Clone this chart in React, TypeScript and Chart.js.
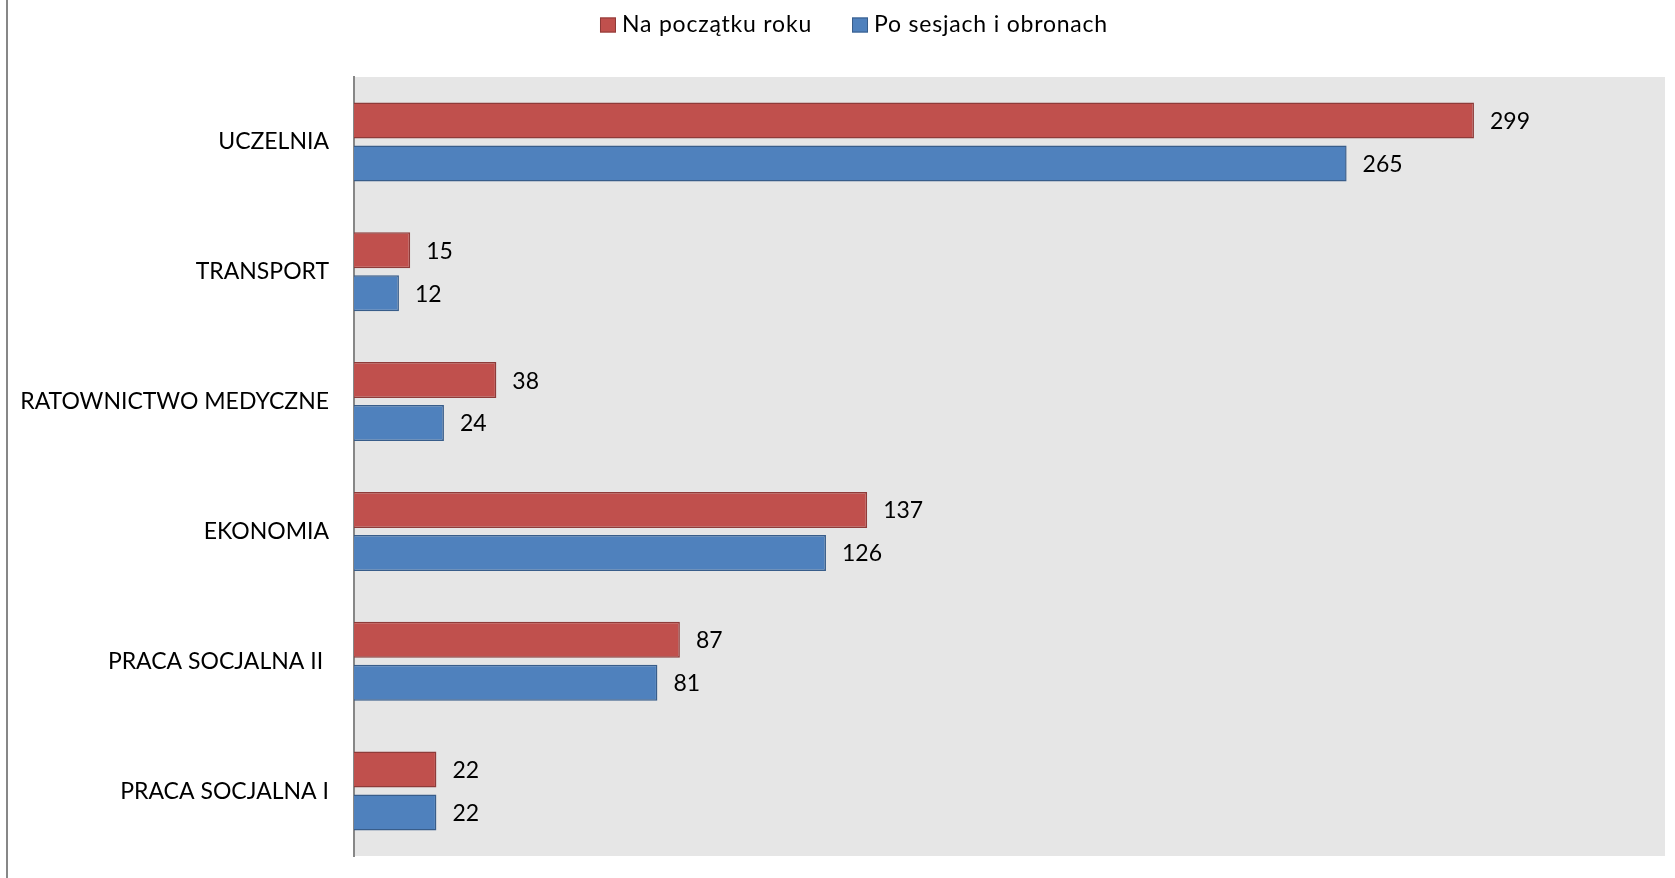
import React, { useEffect, useRef } from "react";
import { Chart, registerables } from "chart.js";

Chart.register(...registerables);

const categories = [
  "UCZELNIA",
  "TRANSPORT",
  "RATOWNICTWO MEDYCZNE",
  "EKONOMIA",
  "PRACA SOCJALNA II ",
  "PRACA SOCJALNA I",
];
const seriesNames = ["Na początku roku", "Po sesjach i obronach"];
const startValues = [299, 15, 38, 137, 87, 22];
const afterValues = [265, 12, 24, 126, 81, 22];
const xMin = 0;
const xMax = 350;

const FONT = "Lato, 'Open Sans', sans-serif";
const FS = 23;
const RED = "#C0504D";
const RED_BORDER = "#8E3B39";
const BLUE = "#4F81BD";
const BLUE_BORDER = "#385D8A";

const bgPlugin = {
  id: "bgPlugin",
  beforeDraw(chart: any) {
    const { ctx, chartArea, width, height } = chart;
    ctx.save();
    ctx.fillStyle = "#FFFFFF";
    ctx.fillRect(0, 0, width, height);
    ctx.fillStyle = "#E6E6E6";
    ctx.fillRect(chartArea.left, chartArea.top, chartArea.right - chartArea.left, chartArea.bottom - chartArea.top);
    ctx.strokeStyle = "#878787";
    ctx.lineWidth = 2;
    ctx.beginPath();
    ctx.moveTo(7, 0);
    ctx.lineTo(7, height);
    ctx.stroke();
    ctx.restore();
  },
};

const valueLabelPlugin = {
  id: "valueLabelPlugin",
  afterDatasetsDraw(chart: any) {
    const { ctx } = chart;
    ctx.save();
    ctx.font = `${FS}px ${FONT}`;
    ctx.fillStyle = "#000000";
    ctx.textAlign = "left";
    ctx.textBaseline = "middle";
    chart.data.datasets.forEach((ds: any, i: number) => {
      const meta = chart.getDatasetMeta(i);
      meta.data.forEach((el: any, j: number) => {
        ctx.fillText(String(ds.data[j]), el.x + 16, el.y + 1);
      });
    });
    ctx.restore();
  },
};

const legendPlugin = {
  id: "customLegend",
  afterDraw(chart: any) {
    const { ctx } = chart;
    const ds = chart.data.datasets;
    ctx.save();
    ctx.font = `${FS}px ${FONT}`;
    try {
      (ctx as any).letterSpacing = "0.8px";
    } catch (e) {}
    ctx.textBaseline = "middle";
    ctx.textAlign = "left";
    const boxW = 16;
    const boxH = 15;
    const gap = 6;
    const spacing = 40;
    const widths = ds.map((d: any) => boxW + gap + ctx.measureText(d.label).width);
    const total = widths.reduce((a: number, b: number) => a + b, 0) + spacing * (ds.length - 1);
    let x = 854 - total / 2;
    const cy = 25;
    ds.forEach((d: any, i: number) => {
      ctx.fillStyle = d.backgroundColor;
      ctx.fillRect(x, cy - boxH / 2, boxW, boxH);
      ctx.strokeStyle = d.borderColor;
      ctx.lineWidth = 1;
      ctx.strokeRect(x + 0.5, cy - boxH / 2 + 0.5, boxW - 1, boxH - 1);
      ctx.fillStyle = "#000000";
      ctx.fillText(d.label, x + boxW + gap, cy);
      x += widths[i] + spacing;
    });
    ctx.restore();
  },
};

export default function App() {
  const canvasRef = useRef<HTMLCanvasElement | null>(null);

  useEffect(() => {
    document.body.style.margin = "0";
    const canvas = canvasRef.current;
    if (!canvas) return;
    const chart = new Chart(canvas, {
      type: "bar",
      data: {
        labels: categories,
        datasets: [
          {
            label: seriesNames[0],
            data: startValues,
            backgroundColor: RED,
            borderColor: RED_BORDER,
            borderWidth: 1.5,
            barPercentage: 0.837,
            categoryPercentage: 0.662,
          },
          {
            label: seriesNames[1],
            data: afterValues,
            backgroundColor: BLUE,
            borderColor: BLUE_BORDER,
            borderWidth: 1.5,
            barPercentage: 0.837,
            categoryPercentage: 0.662,
          },
        ],
      },
      options: {
        indexAxis: "y",
        responsive: false,
        animation: false,
        devicePixelRatio: 1,
        layout: { padding: { top: 77, right: 10, bottom: 22, left: 0 } },
        plugins: {
          legend: { display: false },
          tooltip: { enabled: false },
          title: { display: false },
        },
        scales: {
          x: {
            display: false,
            min: xMin,
            max: xMax,
          },
          y: {
            type: "category",
            grid: { display: false, drawTicks: false },
            border: { display: true, color: "#878787", width: 2 },
            ticks: {
              color: "#000000",
              font: { family: FONT, size: FS },
              padding: 25,
              autoSkip: false,
            },
            afterFit(scale: any) {
              scale.width = 354;
              scale.paddingTop = 0;
              scale.paddingBottom = 0;
            },
          },
        },
      },
      plugins: [bgPlugin, valueLabelPlugin, legendPlugin],
    } as any);
    return () => chart.destroy();
  }, []);

  return (
    <div style={{ width: 1675, height: 878 }}>
      <canvas ref={canvasRef} width={1675} height={878} />
    </div>
  );
}
